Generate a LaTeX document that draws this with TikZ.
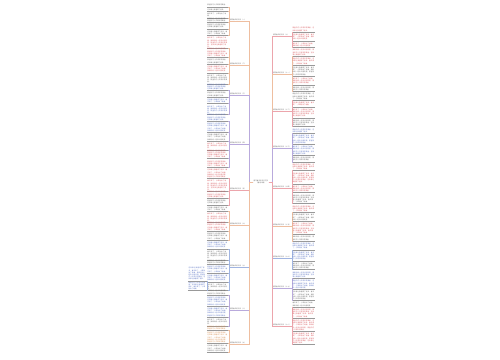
\documentclass[tikz,border=0pt]{standalone}
\usepackage{fontspec}
\setmainfont{Noto Sans CJK SC}
\XeTeXlinebreaklocale "zh"
\XeTeXlinebreakskip = 0pt plus 1pt
\usetikzlibrary{positioning}

\definecolor{zred}{RGB}{215,90,95}
\definecolor{zblue}{RGB}{90,115,195}
\definecolor{zorange}{RGB}{215,145,85}
\definecolor{zgray}{RGB}{105,105,105}
\definecolor{lorange}{RGB}{238,190,160}
\definecolor{lpurple}{RGB}{185,170,220}
\definecolor{lred}{RGB}{236,165,172}
\definecolor{lblue}{RGB}{160,180,225}
\colorlet{lc1}{lorange}\colorlet{lc2}{lorange}\colorlet{lc3}{lpurple}
\colorlet{lc4}{lpurple}\colorlet{lc5}{lred}\colorlet{lc6}{lorange}
\colorlet{lc7}{lblue}\colorlet{lc8}{lpurple}\colorlet{lc9}{lorange}
\colorlet{rc1}{lred}\colorlet{rc2}{lorange}\colorlet{rc3}{lred}
\colorlet{rc4}{lpurple}\colorlet{rc5}{lred}\colorlet{rc6}{lorange}
\colorlet{rc7}{lblue}\colorlet{rc8}{lpurple}\colorlet{rc9}{lred}

\newcommand{\zhline}[1]{\ifcase#1 春天来了，小草钻出了地面，\or 我和妈妈一起去公园玩耍，\or 那里的花儿开得非常美丽。\or 这件事让我懂得了很多，\fi}
\newcommand{\leaftext}[2]{\foreach \k in {1,...,#1}{\pgfmathtruncatemacro{\m}{mod(\k+#2,4)}\zhline{\m}}}

\begin{document}
\begin{tikzpicture}[x=1mm, y=-1mm,
  every node/.style={font=\fontsize{4.6}{6.2}\selectfont},
  link/.style={line width=0.3pt},
  rootnode/.style={align=center, inner sep=0.5mm, text=zgray},
  branch/.style={text width=18mm, align=left, inner sep=0.3mm, text=zgray},
  leafL/.style={text width=20mm, align=left, inner sep=0.5mm, anchor=north east},
  leafR/.style={text width=22mm, align=left, inner sep=0.5mm, anchor=north west},
  leafS/.style={text width=17.5mm, align=left, inner sep=0.5mm, anchor=north east}]

    \useasboundingbox (0,0) rectangle (500,360);

    %Root
    \node[rootnode](root) at (261,182){描写春天的作文范文\\（通用18篇）};
    \coordinate (lspine) at (249.2,182);
    \coordinate (rspine) at (272,182);

    %Branches, left and right
    \foreach \y/\t [count=\b] in {20/一, 64/二, 94/三, 143/四, 189/五, 224/六, 266/七, 309/八, 343/九}{
        \node[branch](bL\b) at (239,\y){描写春天的作文（\t）};
        \draw[lc\b, link] (root.west) -- (lspine) |- (bL\b.south east) -- (bL\b.south west);
    }
    \foreach \y/\t [count=\b] in {35/十, 73/十一, 110/十二, 147/十三, 187/十四, 225/十五, 257/十六, 287/十七, 325/十八}{
        \node[branch](bR\b) at (282,\y){描写春天的作文（\t）};
        \draw[rc\b, link] (root.east) -- (rspine) |- (bR\b.south west) -- (bR\b.south east);
    }

    %Leaves, left
    \foreach \y/\n/\c/\b [count=\i] in {
        4/1/zgray/1, 8.4/1/zgray/1, 12.8/1/zgray/1, 17.2/2/zgray/1, 23.8/2/zgray/1, 30.4/2/zgray/1,
        37/4/zred/2, 48/4/zred/2, 59/2/zgray/2, 65.6/3/zred/2, 74.4/3/zgray/2,
        83.2/3/zblue/3, 92/2/zgray/3, 98.6/2/zblue/3, 105.2/3/zblue/3,
        114/3/zblue/4, 122.8/4/zblue/4, 133.8/3/zgray/4, 142.6/2/zred/4, 149.2/4/zred/4, 160.2/3/zred/4,
        169/4/zred/5, 180/4/zred/5, 191/3/zred/5, 199.8/2/zgray/5,
        206.4/2/zgray/6, 213/3/zred/6, 221.8/4/zred/6, 232.8/3/zgray/6,
        241.6/3/zblue/7, 250.4/3/zgray/7, 259.2/2/zgray/7, 265.8/3/zblue/7, 274.6/3/zblue/7, 283.4/2/zgray/7,
        290/2/zgray/8, 296.6/4/zblue/8, 307.6/4/zblue/8, 318.6/2/zgray/8,
        325.2/2/zorange/9, 331.8/5/zorange/9, 345/3/zgray/9}{
        \node[leafL, text=\c](L\i) at (228,\y){\leaftext{\n}{\i}};
        \draw[black!40, link] (L\i.south west) -- (L\i.south east);
        \draw[lc\b, link] (bL\b.south west) -- ++(-0.7,0) |- (L\i.south east);
    }

    %Sub leaves
    \node[leafS, text=zblue](S1) at (206.6,267){\leaftext{5}{2}};
    \node[leafS, text=zblue](S2) at (206.6,281.2){\leaftext{3}{1}};
    \foreach \s in {S1, S2}{
        \draw[black!40, link] (\s.south west) -- (\s.south east);
        \draw[lblue, link] (L34.south west) -- ++(-0.3,0) |- (\s.south east);
    }

    %Leaves, right
    \foreach \y/\n/\c/\b [count=\i] in {
        27/2/zred/1, 33.6/3/zred/1, 42.4/2/zred/1,
        49/3/zred/2, 57.8/3/zred/2, 66.6/4/zgray/2, 77.6/3/zred/2, 86.4/2/zgray/2,
        93/3/zgray/3, 101.8/2/zred/3, 108.4/4/zred/3, 119.4/3/zgray/3,
        128.2/2/zblue/4, 134.8/4/zblue/4, 145.8/4/zblue/4, 156.8/2/zgray/4,
        163.4/3/zred/5, 172.2/5/zred/5, 185.4/3/zred/5, 194.2/4/zgray/5,
        205.2/3/zred/6, 214/3/zgray/6, 222.8/5/zred/6, 236/2/zgray/6,
        242.6/3/zblue/7, 251.4/4/zblue/7, 262.4/3/zgray/7,
        271.2/3/zblue/8, 280/4/zblue/8, 291/4/zgray/8,
        302/2/zgray/9, 308.6/4/zred/9, 319.6/5/zred/9, 332.8/5/zred/9}{
        \node[leafR, text=\c](R\i) at (292,\y){\leaftext{\n}{\i}};
        \draw[black!40, link] (R\i.south west) -- (R\i.south east);
        \draw[rc\b, link] (bR\b.south east) -- ++(0.4,0) |- (R\i.south west);
    }

\end{tikzpicture}
\end{document}
